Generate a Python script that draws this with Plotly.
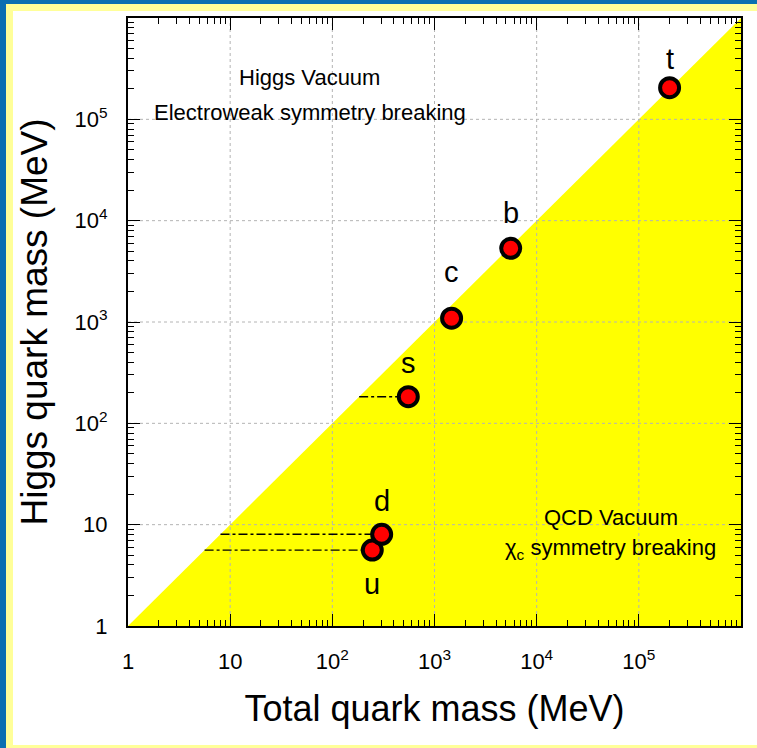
import math
import plotly.graph_objects as go

# Quark masses: total (constituent) mass vs. the part generated by the Higgs field, in MeV
quarks = ["u", "d", "s", "c", "b", "t"]
total_mass = [246, 304, 554, 1470, 5570, 2.0e5]
higgs_mass = [5.62, 8.04, 183, 1090, 5340, 2.05e5]
# light quarks: guide line from the diagonal out to the measured total mass
guide_quarks = ["u", "d", "s"]

decades = [1, 10, 100, 1e3, 1e4, 1e5]
decade_labels = ["1", "10", "10<sup>2</sup>", "10<sup>3</sup>", "10<sup>4</sup>", "10<sup>5</sup>"]
axis_range = [1, 1e6]
minor_ticks = [m * 10 ** k for k in range(6) for m in range(2, 10)]

region_labels = [
    ("Higgs Vacuum", 60, 2.6e5),
    ("Electroweak symmetry breaking", 60, 1.17e5),
    ("QCD Vacuum", 5.3e4, 11.9),
    ("χ<sub>c</sub> symmetry breaking", 5.3e4, 5.75),
]

# page geometry (px)
W, H = 757, 748
ML, MR, MT, MB = 128, 16, 18, 122
PW, PH = W - ML - MR, H - MT - MB

FONT = "Liberation Sans, Arial, Helvetica, sans-serif"


def px_x(px):
    return (px - ML) / PW


def px_y(py):
    return (H - MB - py) / PH


fig = go.Figure()

# region where the total mass exceeds the Higgs mass
fig.add_trace(go.Scatter(
    x=[axis_range[0], axis_range[1], axis_range[1], axis_range[0]],
    y=[axis_range[0], axis_range[1], axis_range[0], axis_range[0]],
    mode="lines", fill="toself", fillcolor="#ffff00",
    line=dict(width=0), hoverinfo="skip", showlegend=False,
))

# dotted decade grid drawn on top of the fill
for d in decades[1:]:
    fig.add_trace(go.Scatter(x=[d, d], y=axis_range, mode="lines",
                             line=dict(color="#b4b4b4", width=1, dash="dot"),
                             hoverinfo="skip", showlegend=False))
    fig.add_trace(go.Scatter(x=axis_range, y=[d, d], mode="lines",
                             line=dict(color="#b4b4b4", width=1, dash="dot"),
                             hoverinfo="skip", showlegend=False))

# dash-dot guides from the diagonal to the light-quark points
for q, tm, hm in zip(quarks, total_mass, higgs_mass):
    if q in guide_quarks:
        fig.add_trace(go.Scatter(x=[hm, tm], y=[hm, hm], mode="lines",
                                 line=dict(color="black", width=1.3, dash="dashdot"),
                                 hoverinfo="skip", showlegend=False))

fig.add_trace(go.Scatter(
    x=total_mass, y=higgs_mass, mode="markers", text=quarks,
    marker=dict(size=19, color="#ff0000", line=dict(color="black", width=4)),
    showlegend=False,
))

# quark names next to their points
label_shift = {"u": -34, "d": 33, "s": 34, "c": 46, "b": 35, "t": 29}
for q, tm, hm in zip(quarks, total_mass, higgs_mass):
    fig.add_annotation(x=math.log10(tm), y=math.log10(hm), text=q, showarrow=False,
                       xref="x", yref="y", yshift=label_shift[q],
                       font=dict(family=FONT, size=29, color="black"))

for text, lx, ly in region_labels:
    fig.add_annotation(x=math.log10(lx), y=math.log10(ly), text=text, showarrow=False,
                       xref="x", yref="y",
                       font=dict(family=FONT, size=22, color="black"))

# slide frame around the figure
BLUE, PALE = "#0a6fb1", "#ffff99"
frame = [
    (0, 0, W, 4, BLUE),
    (0, 0, 6, H, BLUE),
    (6, 4, W, 11, PALE),
    (6, 4, 13, H, PALE),
    (6, H - 3, W, H, PALE),
]
for x0, y0, x1, y1, col in frame:
    fig.add_shape(type="rect", xref="paper", yref="paper",
                  x0=px_x(x0), x1=px_x(x1), y0=px_y(y1), y1=px_y(y0),
                  fillcolor=col, line=dict(width=0), layer="below")

axis_common = dict(
    type="log", range=[0, 6], showgrid=False, zeroline=False,
    showline=True, linewidth=2, linecolor="black", mirror="allticks",
    ticks="inside", ticklen=12, tickwidth=1, tickcolor="black",
    tickvals=decades, ticktext=decade_labels,
    tickfont=dict(family=FONT, size=22, color="black"),
    minor=dict(tickvals=minor_ticks, ticks="inside", ticklen=6,
               tickwidth=1, tickcolor="black", showgrid=False),
)

fig.update_xaxes(**axis_common, ticklabelstandoff=15,
                 title=dict(text="Total quark mass (MeV)", standoff=22,
                            font=dict(family=FONT, size=36, color="black")))
fig.update_yaxes(**axis_common, ticklabelstandoff=14,
                 title=dict(text="Higgs quark mass (MeV)", standoff=16,
                            font=dict(family=FONT, size=37, color="black")))

fig.update_layout(
    width=W, height=H, autosize=False,
    margin=dict(l=ML, r=MR, t=MT, b=MB, autoexpand=False),
    paper_bgcolor="white", plot_bgcolor="white",
    font=dict(family=FONT, color="black"),
    showlegend=False,
)

fig.write_html("out.html")
